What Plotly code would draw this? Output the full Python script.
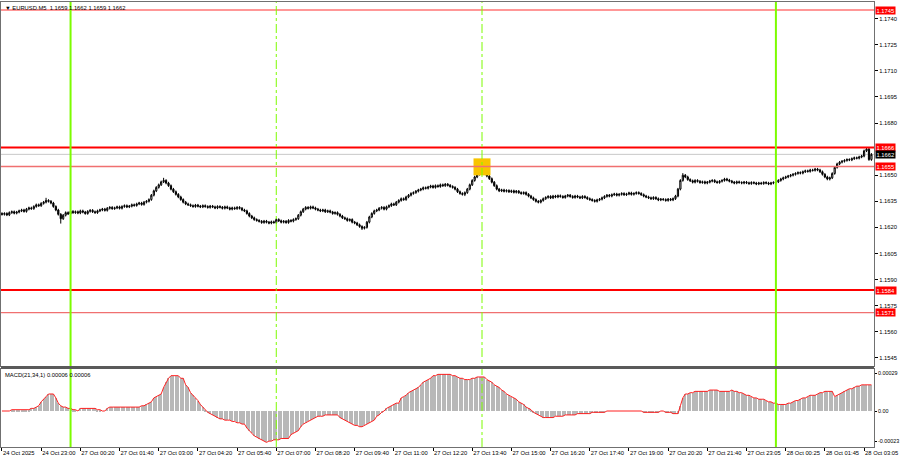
import plotly.graph_objects as go

# ---------------- data ----------------
first_open = 1.16280
closes = [
    1.16275, 1.16280, 1.16272, 1.16285, 1.16290, 1.16282, 1.16288, 1.16295, 1.16300, 1.16292,
    1.16305, 1.16312, 1.16308, 1.16320, 1.16330, 1.16325, 1.16338, 1.16345, 1.16355, 1.16350,
    1.16340, 1.16320, 1.16300, 1.16275, 1.16250, 1.16270, 1.16285, 1.16278, 1.16292, 1.16285,
    1.16290, 1.16283, 1.16295, 1.16288, 1.16280, 1.16292, 1.16298, 1.16290, 1.16285, 1.16295,
    1.16300, 1.16305, 1.16298, 1.16310, 1.16315, 1.16308, 1.16312, 1.16318, 1.16310, 1.16320,
    1.16325, 1.16318, 1.16322, 1.16330, 1.16326, 1.16335, 1.16340, 1.16332, 1.16345, 1.16350,
    1.16360, 1.16385, 1.16410, 1.16430, 1.16445, 1.16462, 1.16470, 1.16455, 1.16440, 1.16420,
    1.16405, 1.16390, 1.16375, 1.16360, 1.16345, 1.16335, 1.16330, 1.16325, 1.16320, 1.16328,
    1.16322, 1.16318, 1.16325, 1.16320, 1.16315, 1.16322, 1.16318, 1.16312, 1.16320, 1.16316,
    1.16310, 1.16318, 1.16312, 1.16305, 1.16312, 1.16308, 1.16315, 1.16310, 1.16300, 1.16295,
    1.16280, 1.16265, 1.16255, 1.16245, 1.16240, 1.16235, 1.16228, 1.16236, 1.16230, 1.16225,
    1.16232, 1.16228, 1.16245, 1.16238, 1.16230, 1.16235, 1.16228, 1.16240, 1.16236, 1.16245,
    1.16250, 1.16270, 1.16290, 1.16305, 1.16315, 1.16310, 1.16318, 1.16312, 1.16305, 1.16300,
    1.16295, 1.16300, 1.16290, 1.16295, 1.16288, 1.16280, 1.16285, 1.16275, 1.16265, 1.16255,
    1.16250, 1.16240, 1.16245, 1.16230, 1.16225, 1.16215, 1.16205, 1.16195, 1.16200, 1.16230,
    1.16260, 1.16280, 1.16295, 1.16300, 1.16310, 1.16315, 1.16305, 1.16318, 1.16325, 1.16335,
    1.16330, 1.16345, 1.16355, 1.16365, 1.16360, 1.16375, 1.16385, 1.16395, 1.16400, 1.16408,
    1.16415, 1.16420, 1.16428, 1.16425, 1.16432, 1.16438, 1.16430, 1.16440, 1.16435, 1.16445,
    1.16440, 1.16448, 1.16442, 1.16435, 1.16430, 1.16420, 1.16405, 1.16395, 1.16390, 1.16400,
    1.16420, 1.16445, 1.16470, 1.16490, 1.16505, 1.16515, 1.16520, 1.16510, 1.16495, 1.16480,
    1.16460, 1.16440, 1.16420, 1.16410, 1.16415, 1.16408, 1.16412, 1.16405, 1.16410, 1.16402,
    1.16408, 1.16400, 1.16395, 1.16400, 1.16390, 1.16380, 1.16370, 1.16360, 1.16350, 1.16345,
    1.16355, 1.16365, 1.16372, 1.16378, 1.16370, 1.16380, 1.16375, 1.16382, 1.16378, 1.16372,
    1.16380, 1.16385, 1.16378, 1.16372, 1.16380, 1.16375, 1.16370, 1.16378, 1.16372, 1.16365,
    1.16360, 1.16355, 1.16350, 1.16358, 1.16362, 1.16370, 1.16378, 1.16385, 1.16380, 1.16388,
    1.16392, 1.16385, 1.16390, 1.16395, 1.16388, 1.16392, 1.16398, 1.16390, 1.16395, 1.16400,
    1.16395, 1.16388, 1.16380, 1.16375, 1.16370, 1.16365, 1.16372, 1.16365, 1.16358, 1.16362,
    1.16360, 1.16355, 1.16362, 1.16358, 1.16365, 1.16380, 1.16420, 1.16470, 1.16500, 1.16490,
    1.16475, 1.16468, 1.16460, 1.16470, 1.16465, 1.16458, 1.16462, 1.16455, 1.16460, 1.16466,
    1.16470, 1.16462, 1.16458, 1.16465, 1.16470, 1.16478, 1.16472, 1.16466, 1.16460, 1.16455,
    1.16462, 1.16458, 1.16455, 1.16460, 1.16456, 1.16452, 1.16458, 1.16455, 1.16450, 1.16455,
    1.16452, 1.16458, 1.16455, 1.16450, 1.16455, 1.16458, 1.16462, 1.16470, 1.16478, 1.16485,
    1.16490, 1.16495, 1.16500, 1.16505, 1.16510, 1.16515, 1.16512, 1.16520, 1.16525, 1.16522,
    1.16530, 1.16528, 1.16535, 1.16530, 1.16520, 1.16505, 1.16490, 1.16478, 1.16485, 1.16510,
    1.16545, 1.16565, 1.16575, 1.16580, 1.16585, 1.16590, 1.16588, 1.16595, 1.16600, 1.16598,
    1.16605, 1.16610, 1.16640, 1.16650, 1.16590, 1.16620,
]
# notable wick extremes (bar index -> price)
wick_highs = {18: 1.16370, 66: 1.16485, 195: 1.16535, 278: 1.16512, 353: 1.16660}
wick_lows = {24: 1.16222, 147: 1.16185, 189: 1.16380, 338: 1.16470}
typical_wick = 0.00007   # usual wick length seen on the 5-minute candles

macd = [
    0.00000, 0.00000, 0.00000, 0.00000, 0.00001, 0.00001, 0.00001, 0.00001, 0.00001, 0.00001,
    0.00001, 0.00001, 0.00002, 0.00002, 0.00003, 0.00004, 0.00007, 0.00009, 0.00011, 0.00013,
    0.00013, 0.00013, 0.00010, 0.00006, 0.00004, 0.00003, 0.00003, 0.00002, 0.00002, 0.00001,
    0.00001, 0.00000, 0.00002, 0.00002, 0.00002, 0.00002, 0.00002, 0.00002, 0.00002, 0.00001,
    0.00001, 0.00000, 0.00000, 0.00002, 0.00003, 0.00003, 0.00003, 0.00003, 0.00003, 0.00003,
    0.00003, 0.00003, 0.00003, 0.00003, 0.00003, 0.00003, 0.00003, 0.00004, 0.00004, 0.00005,
    0.00006, 0.00007, 0.00010, 0.00011, 0.00012, 0.00013, 0.00018, 0.00022, 0.00025, 0.00027,
    0.00027, 0.00027, 0.00027, 0.00025, 0.00025, 0.00020, 0.00018, 0.00014, 0.00012, 0.00010,
    0.00008, 0.00005, 0.00003, 0.00001, -0.00001, -0.00002, -0.00003, -0.00004, -0.00005, -0.00006,
    -0.00006, -0.00007, -0.00007, -0.00007, -0.00008, -0.00008, -0.00009, -0.00009, -0.00010, -0.00010,
    -0.00013, -0.00015, -0.00017, -0.00019, -0.00020, -0.00021, -0.00022, -0.00023, -0.00024, -0.00023,
    -0.00023, -0.00022, -0.00022, -0.00022, -0.00021, -0.00021, -0.00021, -0.00021, -0.00018, -0.00017,
    -0.00016, -0.00015, -0.00012, -0.00010, -0.00009, -0.00008, -0.00007, -0.00006, -0.00005, -0.00004,
    -0.00004, -0.00004, -0.00003, -0.00003, -0.00003, -0.00003, -0.00003, -0.00003, -0.00005, -0.00006,
    -0.00007, -0.00008, -0.00009, -0.00010, -0.00011, -0.00011, -0.00012, -0.00012, -0.00011, -0.00010,
    -0.00009, -0.00008, -0.00007, -0.00004, -0.00003, -0.00001, 0.00000, 0.00002, 0.00003, 0.00004,
    0.00005, 0.00006, 0.00006, 0.00010, 0.00011, 0.00012, 0.00014, 0.00015, 0.00016, 0.00017,
    0.00018, 0.00020, 0.00022, 0.00023, 0.00024, 0.00025, 0.00027, 0.00027, 0.00028, 0.00028,
    0.00028, 0.00028, 0.00028, 0.00028, 0.00027, 0.00027, 0.00026, 0.00025, 0.00025, 0.00024,
    0.00024, 0.00024, 0.00025, 0.00025, 0.00026, 0.00026, 0.00026, 0.00026, 0.00024, 0.00023,
    0.00022, 0.00020, 0.00019, 0.00018, 0.00016, 0.00015, 0.00013, 0.00012, 0.00011, 0.00010,
    0.00009, 0.00007, 0.00006, 0.00005, 0.00003, 0.00002, 0.00001, -0.00001, -0.00002, -0.00003,
    -0.00004, -0.00005, -0.00005, -0.00005, -0.00005, -0.00005, -0.00004, -0.00004, -0.00004, -0.00004,
    -0.00003, -0.00003, -0.00003, -0.00003, -0.00003, -0.00002, -0.00002, -0.00002, -0.00002, -0.00002,
    -0.00002, -0.00001, -0.00001, -0.00001, -0.00001, -0.00001, -0.00001, 0.00000, 0.00000, 0.00000,
    0.00000, 0.00000, 0.00000, 0.00000, 0.00000, 0.00000, 0.00000, 0.00000, 0.00000, 0.00000,
    0.00000, 0.00000, -0.00001, -0.00001, -0.00001, -0.00001, -0.00001, -0.00001, -0.00001, 0.00000,
    0.00000, -0.00001, -0.00001, -0.00001, -0.00002, -0.00002, -0.00002, 0.00004, 0.00010, 0.00013,
    0.00013, 0.00014, 0.00014, 0.00015, 0.00015, 0.00015, 0.00015, 0.00015, 0.00015, 0.00016,
    0.00016, 0.00016, 0.00016, 0.00015, 0.00015, 0.00015, 0.00015, 0.00015, 0.00016, 0.00015,
    0.00015, 0.00014, 0.00014, 0.00013, 0.00012, 0.00012, 0.00011, 0.00010, 0.00010, 0.00009,
    0.00009, 0.00009, 0.00008, 0.00007, 0.00007, 0.00006, 0.00006, 0.00005, 0.00005, 0.00005,
    0.00005, 0.00006, 0.00006, 0.00007, 0.00008, 0.00008, 0.00009, 0.00010, 0.00010, 0.00011,
    0.00012, 0.00012, 0.00012, 0.00013, 0.00014, 0.00014, 0.00015, 0.00015, 0.00015, 0.00015,
    0.00011, 0.00012, 0.00013, 0.00014, 0.00015, 0.00016, 0.00017, 0.00017, 0.00018, 0.00019,
    0.00019, 0.00020, 0.00020, 0.00020, 0.00020, 0.00020,
]

tick_bars = list(range(0, 356, 16))
tick_labels = ["24 Oct 2025", "24 Oct 23:00", "27 Oct 00:20", "27 Oct 01:40", "27 Oct 03:00",
               "27 Oct 04:20", "27 Oct 05:40", "27 Oct 07:00", "27 Oct 08:20", "27 Oct 09:40",
               "27 Oct 11:00", "27 Oct 12:20", "27 Oct 13:40", "27 Oct 15:00", "27 Oct 16:20",
               "27 Oct 17:40", "27 Oct 19:00", "27 Oct 20:20", "27 Oct 21:40", "27 Oct 23:05",
               "28 Oct 00:25", "28 Oct 01:45", "28 Oct 03:05"]
price_ticks = [1.1740, 1.1725, 1.1710, 1.1695, 1.1680, 1.1650, 1.1635, 1.1620,
               1.1605, 1.1590, 1.1575, 1.1560, 1.1545]
macd_ticks = [0.00029, 0.0, -0.00023]
macd_tick_labels = ["0.00029", "0.00", "-0.00023"]

levels = [1.1745, 1.1666, 1.1655, 1.1584, 1.1571]
level_colors = ["#FF3030", "#FF0000", "#F07070", "#FF0000", "#F07070"]
level_widths = [1.2, 2, 1.5, 2, 1.2]
current_price = 1.1662
solid_vlines = [28, 316]
dashdot_vlines = [112, 196]
signal_bar, signal_price = 196, 1.16548

header = "▼ EURUSD.M5  1.1659 1.1662 1.1659 1.1662"
macd_title = "MACD(21,34,1) 0.00006 0.00006"

# ---------------- build ----------------
n = len(closes)
bars = list(range(n))
opens = [first_open] + closes[:-1]
highs = [wick_highs.get(i, max(o, c) + typical_wick) for i, (o, c) in enumerate(zip(opens, closes))]
lows = [wick_lows.get(i, min(o, c) - typical_wick) for i, (o, c) in enumerate(zip(opens, closes))]

FONT = "Liberation Sans, Arial, sans-serif"
FS = 5.8
fig = go.Figure()

fig.add_trace(go.Candlestick(
    x=bars, open=opens, high=highs, low=lows, close=closes,
    increasing=dict(line=dict(color="black", width=1), fillcolor="white"),
    decreasing=dict(line=dict(color="black", width=1), fillcolor="black"),
    whiskerwidth=0, xaxis="x", yaxis="y", showlegend=False, hoverinfo="skip"))

fig.add_trace(go.Scatter(
    x=[signal_bar], y=[signal_price], mode="markers",
    marker=dict(symbol="square", size=17, color="#F8C400", line=dict(width=0)),
    xaxis="x", yaxis="y", showlegend=False, hoverinfo="skip"))

fig.add_trace(go.Bar(
    x=bars, y=macd, marker=dict(color="#B8B8B8", line=dict(width=0)), width=0.45,
    xaxis="x2", yaxis="y2", showlegend=False, hoverinfo="skip"))
fig.add_trace(go.Scatter(
    x=bars, y=macd, mode="lines", line=dict(color="#FF2020", width=1),
    xaxis="x2", yaxis="y2", showlegend=False, hoverinfo="skip"))

xr = [-0.4, 356.05]
main_dom = [0.182, 1.0]
macd_dom = [0.0, 0.1753]

shapes = []
shapes.append(dict(type="line", xref="paper", x0=0, x1=1, yref="y", y0=current_price, y1=current_price,
                   line=dict(color="#C8C8C8", width=1), layer="below"))
for lv, col, w in zip(levels, level_colors, level_widths):
    shapes.append(dict(type="line", xref="paper", x0=0, x1=1, yref="y", y0=lv, y1=lv,
                       line=dict(color=col, width=w)))
for b in solid_vlines:
    shapes.append(dict(type="line", xref="x", x0=b, x1=b, yref="paper", y0=0, y1=1,
                       line=dict(color="#7CFC00", width=2)))
for b in dashdot_vlines:
    shapes.append(dict(type="line", xref="x", x0=b, x1=b, yref="paper", y0=0, y1=1,
                       line=dict(color="#7CFC00", width=1, dash="dashdot")))
shapes.append(dict(type="rect", xref="paper", x0=0, x1=1, yref="paper", y0=macd_dom[1], y1=main_dom[0],
                   fillcolor="#5A5A5A", line=dict(width=0)))

annotations = []
for lv in levels:
    annotations.append(dict(xref="paper", x=1, xanchor="left", xshift=1, yref="y", y=lv,
                            text=f"{lv:.4f}", showarrow=False, bgcolor="#FF0000", borderpad=0.5,
                            font=dict(family=FONT, size=FS, color="white")))
annotations.append(dict(xref="paper", x=1, xanchor="left", xshift=1, yref="y", y=current_price,
                        text=f"{current_price:.4f}", showarrow=False, bgcolor="#000000", borderpad=0.5,
                        font=dict(family=FONT, size=FS, color="white")))
annotations.append(dict(xref="paper", yref="paper", x=0, y=1, xanchor="left", yanchor="top",
                        xshift=2, yshift=-1, text=header, showarrow=False,
                        font=dict(family=FONT, size=FS, color="black")))
annotations.append(dict(xref="paper", yref="paper", x=0, y=macd_dom[1], xanchor="left", yanchor="top",
                        xshift=2, yshift=-1, text=macd_title, showarrow=False,
                        font=dict(family=FONT, size=FS, color="black")))

axis_common = dict(showgrid=False, zeroline=False, showline=True, linecolor="#707070", linewidth=1,
                   mirror=True, tickcolor="black", automargin=False)

fig.update_layout(
    width=900, height=460, margin=dict(l=1, r=26, t=2, b=13, autoexpand=False),
    paper_bgcolor="white", plot_bgcolor="white", showlegend=False, bargap=0,
    xaxis=dict(domain=[0, 1], anchor="y", range=xr, showticklabels=False, ticks="",
               rangeslider=dict(visible=False), **axis_common),
    yaxis=dict(domain=main_dom, anchor="x", side="right", range=[1.15403, 1.17496], ticks="outside",
               ticklen=3, tickfont=dict(family=FONT, size=FS, color="black"),
               tickvals=price_ticks, ticktext=[f"{t:.4f}" for t in price_ticks], **axis_common),
    xaxis2=dict(domain=[0, 1], anchor="y2", range=xr, matches="x", ticks="outside", ticklen=3,
                tickfont=dict(family=FONT, size=FS, color="black"),
                tickvals=tick_bars, ticktext=tick_labels, ticklabelposition="outside right",
                tickangle=0, **axis_common),
    yaxis2=dict(domain=macd_dom, anchor="x2", side="right", range=[-0.000275, 0.000321], ticks="outside",
                ticklen=2, tickfont=dict(family=FONT, size=5.4, color="black"),
                tickvals=macd_ticks, ticktext=macd_tick_labels, **axis_common),
    shapes=shapes, annotations=annotations,
)

# remove the browser's default page margin so the figure sits at the window's top-left corner
fig.write_html("out.html", config={"displayModeBar": False},
               post_script="document.body.style.margin='0';document.body.style.overflow='hidden';")
